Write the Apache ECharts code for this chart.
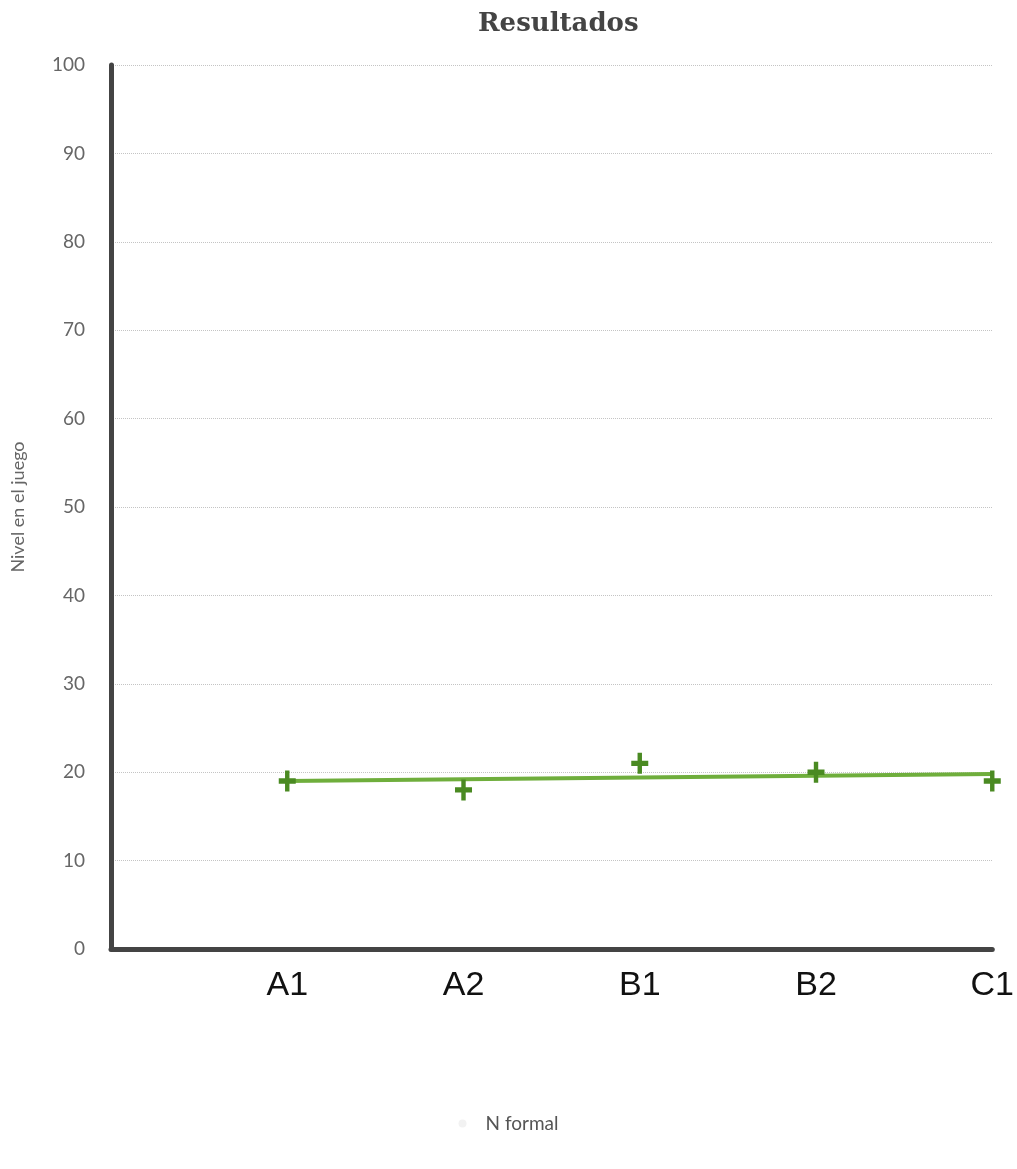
<!DOCTYPE html>
<html>
<head>
<meta charset="utf-8">
<script src="https://cdn.jsdelivr.net/npm/echarts@6/dist/echarts.min.js"></script>
<style>
  html, body { margin: 0; padding: 0; background: #fff; }
  #chart { width: 1017px; height: 1169px; }
</style>
</head>
<body>
<div id="chart"></div>
<script>
// Levels reached per group
const categories = ['', 'A1', 'A2', 'B1', 'B2', 'C1'];
const groups = ['A1', 'A2', 'B1', 'B2', 'C1'];
const levels = [19, 18, 21, 20, 19];
// Trend line end points (first and last group)
const trendGroups = ['A1', 'C1'];
const trendLevels = [19.0, 19.8];
const yTicks = { min: 0, max: 100, step: 10 };

const plusPath = 'path://M3.7,0h2.6v3.7h3.7v2.6h-3.7v3.7h-2.6v-3.7h-3.7v-2.6h3.7z';

const chart = echarts.init(document.getElementById('chart'), null, { renderer: 'canvas' });
chart.setOption({
  backgroundColor: '#ffffff',
  animation: false,
  title: {
    text: 'Resultados',
    left: 473,
    top: 6,
    textStyle: { fontFamily: 'DejaVu Serif', fontWeight: 'bold', fontSize: 26, color: '#444' }
  },
  legend: {
    bottom: 31,
    left: 'center',
    data: [{ name: 'N formal', icon: 'circle' }],
    itemWidth: 8,
    itemHeight: 8,
    itemGap: 10,
    padding: [5, 0, 5, 40],
    textStyle: { fontFamily: 'Lato', fontSize: 19, color: '#555', padding: [0, 0, 0, 14] }
  },
  grid: { left: 111, right: 16, top: 65, bottom: 220, containLabel: false },
  xAxis: {
    type: 'category',
    data: categories,
    boundaryGap: false,
    axisLine: { lineStyle: { color: '#444', width: 5 } },
    axisTick: { show: false },
    axisLabel: { fontFamily: 'Liberation Sans', fontSize: 34, color: '#111', margin: 20 },
    splitLine: { show: false }
  },
  yAxis: {
    type: 'value',
    min: yTicks.min,
    max: yTicks.max,
    interval: yTicks.step,
    name: 'Nivel en el juego',
    nameLocation: 'middle',
    nameGap: 84,
    nameTextStyle: { fontFamily: 'Lato', fontSize: 18, color: '#666' },
    axisLine: { show: true, lineStyle: { color: '#444', width: 5 } },
    axisTick: { show: false },
    axisLabel: { fontFamily: 'Lato', fontSize: 19, color: '#666', margin: 26 },
    splitLine: { show: true, lineStyle: { color: '#c4c4c4', type: 'dotted', width: 1 } }
  },
  series: [
    {
      name: 'N formal',
      type: 'line',
      data: trendGroups.map((g, i) => [g, trendLevels[i]]),
      symbol: 'none',
      lineStyle: { color: '#6fae3c', width: 4 },
      itemStyle: { color: '#f2f2f2' },
      z: 2
    },
    {
      name: 'N formal puntos',
      type: 'scatter',
      data: groups.map((g, i) => [g, levels[i]]),
      symbol: plusPath,
      symbolSize: [17, 21],
      itemStyle: { color: '#4a8a22', opacity: 1 },
      z: 3
    }
  ]
});
</script>
</body>
</html>
